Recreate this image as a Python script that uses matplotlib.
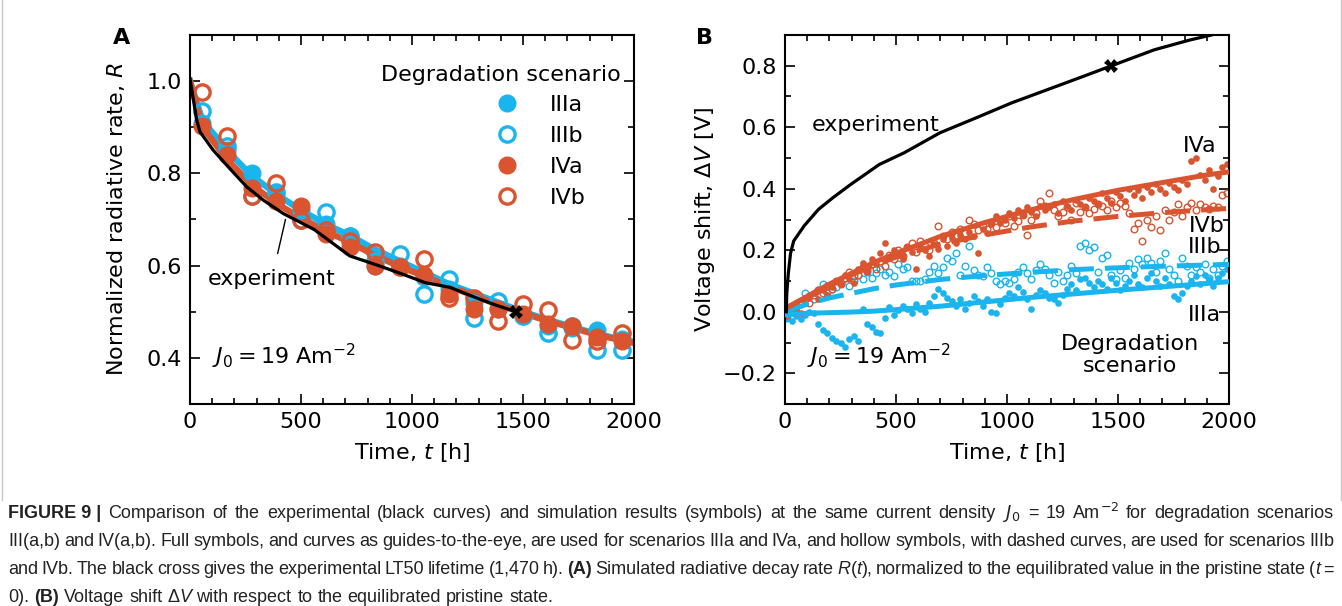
import matplotlib
matplotlib.use("Agg")
import matplotlib.pyplot as plt
from matplotlib.ticker import MultipleLocator
from matplotlib import font_manager

# ── colours / style ──────────────────────────────────────────────────────
BLUE = "#1ab4ee"
ORANGE = "#d9542f"
TEXT_COLOR = "#222222"
TICK_FONTSIZE = 16
LABEL_FONTSIZE = 16

# ── Panel A: normalized radiative rate R(t) ──────────────────────────────
T_A = [56, 167, 278, 389, 500, 611, 722, 833, 944, 1056, 1167, 1278, 1389,
       1500, 1611, 1722, 1833, 1944]
R_IIIA = [0.91, 0.85, 0.80, 0.755, 0.72, 0.69, 0.665, 0.60, 0.60, 0.575,
          0.55, 0.52, 0.505, 0.49, 0.47, 0.465, 0.46, 0.44]
R_IIIB = [0.936, 0.86, 0.75, 0.76, 0.70, 0.716, 0.664, 0.61, 0.626, 0.538,
          0.57, 0.486, 0.524, 0.49, 0.453, 0.47, 0.416, 0.416]
R_IVA = [0.903, 0.84, 0.768, 0.74, 0.729, 0.668, 0.64, 0.60, 0.596, 0.58,
         0.538, 0.507, 0.505, 0.495, 0.473, 0.47, 0.445, 0.437]
R_IVB = [0.977, 0.88, 0.75, 0.78, 0.70, 0.678, 0.653, 0.63, 0.598, 0.615,
         0.529, 0.529, 0.48, 0.517, 0.504, 0.439, 0.437, 0.454]

GUIDE_T_A = [0, 56, 167, 278, 389, 500, 611, 722, 833, 944, 1056, 1167, 1278,
             1389, 1500, 1611, 1722, 1833, 1944, 2000]
GUIDE_IIIA_A = [1.0, 0.915, 0.85, 0.795, 0.755, 0.72, 0.69, 0.665, 0.635,
                0.61, 0.585, 0.56, 0.54, 0.52, 0.5, 0.483, 0.467, 0.452,
                0.44, 0.435]
GUIDE_IVA_A = [1.0, 0.9, 0.83, 0.775, 0.735, 0.703, 0.675, 0.65, 0.622,
               0.598, 0.577, 0.555, 0.535, 0.515, 0.497, 0.48, 0.465, 0.45,
               0.438, 0.432]

EXP_T_A = [0, 30, 45, 105, 180, 255, 330, 420, 560, 720, 850, 960, 1060,
           1170, 1285, 1380, 1470]
EXP_R_A = [1.005, 0.916, 0.89, 0.85, 0.81, 0.771, 0.742, 0.713, 0.678, 0.621,
           0.6, 0.581, 0.563, 0.553, 0.531, 0.514, 0.5]
LT50_T = 1470
LT50_R = 0.5

# ── Panel B: voltage shift dV(t) ─────────────────────────────────────────
T_B = [10, 30, 50, 70, 90, 110, 130, 150, 170, 190,
       210, 230, 250, 270, 290, 310, 330, 350, 370, 390,
       410, 430, 450, 470, 490, 510, 530, 550, 570, 590,
       610, 630, 650, 670, 690, 710, 730, 750, 770, 790,
       810, 830, 850, 870, 890, 910, 930, 950, 970, 990,
       1010, 1030, 1050, 1070, 1090, 1110, 1130, 1150, 1170, 1190,
       1210, 1230, 1250, 1270, 1290, 1310, 1330, 1350, 1370, 1390,
       1410, 1430, 1450, 1470, 1490, 1510, 1530, 1550, 1570, 1590,
       1610, 1630, 1650, 1670, 1690, 1710, 1730, 1750, 1770, 1790,
       1810, 1830, 1850, 1870, 1890, 1910, 1930, 1950, 1970, 1990]
V_IIIA = [-0.02, -0.03, -0.015, -0.025, -0.01, 0.0, -0.005, -0.04, -0.06, -0.07,
          -0.085, -0.095, -0.10, -0.115, -0.09, -0.08, -0.095, 0.01, -0.04, -0.05,
          -0.065, -0.07, -0.02, 0.015, -0.01, 0.005, 0.02, 0.01, -0.005, 0.025,
          0.01, 0.0, 0.03, 0.05, 0.075, 0.06, 0.045, 0.035, 0.02, 0.04,
          0.01, 0.03, 0.05, 0.035, 0.02, 0.04, 0.0, -0.005, 0.025, 0.045,
          0.06, 0.05, 0.08, 0.065, 0.04, 0.01, 0.055, 0.07, 0.06, 0.045,
          0.04, 0.03, 0.055, 0.075, 0.09, 0.07, 0.105, 0.11, 0.095, 0.08,
          0.10, 0.09, 0.075, 0.11, 0.095, 0.07, 0.085, 0.10, 0.12, 0.09,
          0.08, 0.11, 0.125, 0.10, 0.085, 0.11, 0.09, 0.05, 0.04, 0.06,
          0.085, 0.10, 0.115, 0.09, 0.12, 0.105, 0.085, 0.11, 0.125, 0.14]
V_IIIB = [-0.02, 0.0, 0.02, 0.035, 0.06, 0.05, 0.04, 0.07, 0.09, 0.06,
          0.075, 0.08, 0.095, 0.11, 0.085, 0.10, 0.12, 0.105, 0.13, 0.11,
          0.125, 0.14, 0.12, 0.13, 0.115, 0.155, 0.14, 0.145, 0.10, 0.10,
          0.10, 0.105, 0.13, 0.15, 0.125, 0.145, 0.175, 0.165, 0.19, 0.12,
          0.15, 0.215, 0.135, 0.12, 0.115, 0.145, 0.125, 0.10, 0.09, 0.10,
          0.095, 0.105, 0.13, 0.145, 0.125, 0.105, 0.135, 0.155, 0.14, 0.12,
          0.095, 0.13, 0.10, 0.12, 0.15, 0.125, 0.215, 0.225, 0.20, 0.21,
          0.13, 0.175, 0.185, 0.12, 0.105, 0.135, 0.11, 0.16, 0.14, 0.17,
          0.155, 0.175, 0.16, 0.13, 0.165, 0.19, 0.14, 0.12, 0.10, 0.175,
          0.15, 0.12, 0.145, 0.13, 0.155, 0.11, 0.14, 0.12, 0.15, 0.165]
V_IVA = [0.0, 0.02, 0.01, -0.005, 0.03, 0.045, 0.06, 0.04, 0.07, 0.055,
         0.08, 0.10, 0.09, 0.12, 0.105, 0.095, 0.14, 0.16, 0.13, 0.17,
         0.155, 0.19, 0.225, 0.175, 0.20, 0.185, 0.17, 0.21, 0.195, 0.14,
         0.215, 0.20, 0.18, 0.22, 0.205, 0.235, 0.215, 0.24, 0.225, 0.25,
         0.235, 0.26, 0.245, 0.19, 0.27, 0.255, 0.285, 0.31, 0.29, 0.30,
         0.32, 0.305, 0.33, 0.315, 0.34, 0.325, 0.31, 0.345, 0.33, 0.34,
         0.35, 0.32, 0.36, 0.345, 0.33, 0.365, 0.35, 0.34, 0.37, 0.36,
         0.35, 0.385, 0.37, 0.355, 0.39, 0.375, 0.36, 0.40, 0.38, 0.395,
         0.37, 0.405, 0.39, 0.415, 0.40, 0.385, 0.42, 0.405, 0.395, 0.43,
         0.415, 0.49, 0.50, 0.445, 0.43, 0.46, 0.40, 0.44, 0.47, 0.48]
V_IVB = [-0.01, 0.01, 0.0, 0.025, 0.04, 0.03, 0.055, 0.07, 0.06, 0.085,
         0.075, 0.10, 0.09, 0.11, 0.13, 0.115, 0.12, 0.145, 0.135, 0.155,
         0.14, 0.165, 0.15, 0.185, 0.17, 0.20, 0.18, 0.21, 0.225, 0.195,
         0.23, 0.215, 0.20, 0.225, 0.28, 0.245, 0.235, 0.26, 0.245, 0.27,
         0.255, 0.30, 0.285, 0.265, 0.28, 0.27, 0.29, 0.275, 0.30, 0.29,
         0.31, 0.28, 0.295, 0.315, 0.25, 0.30, 0.32, 0.36, 0.345, 0.385,
         0.33, 0.31, 0.325, 0.34, 0.30, 0.355, 0.325, 0.34, 0.32, 0.335,
         0.35, 0.345, 0.33, 0.36, 0.34, 0.355, 0.345, 0.32, 0.27, 0.29,
         0.23, 0.30, 0.275, 0.31, 0.265, 0.33, 0.30, 0.325, 0.35, 0.31,
         0.34, 0.355, 0.33, 0.35, 0.34, 0.335, 0.345, 0.34, 0.38, 0.385]

GUIDE_T_B = [0, 100, 200, 300, 400, 500, 700, 900, 1100, 1300, 1500, 1700,
             1900, 2000]
GUIDE_IIIA_B = [-0.01, -0.005, -0.003, -0.001, 0.002, 0.007, 0.018, 0.032,
                0.046, 0.058, 0.07, 0.081, 0.092, 0.098]
GUIDE_IIIB_B = [0.0, 0.025, 0.045, 0.06, 0.075, 0.087, 0.105, 0.118, 0.128,
                0.137, 0.143, 0.148, 0.152, 0.154]
GUIDE_IVA_B = [0.01, 0.05, 0.09, 0.125, 0.16, 0.19, 0.245, 0.29, 0.33, 0.365,
               0.395, 0.42, 0.445, 0.455]
GUIDE_IVB_B = [0.01, 0.048, 0.085, 0.12, 0.15, 0.178, 0.22, 0.25, 0.275,
               0.295, 0.31, 0.322, 0.332, 0.336]

EXP_T_B = [6, 8, 15, 25, 39, 87, 151, 216, 296, 425, 537, 698, 859, 1020,
           1181, 1342, 1471, 1664, 1825, 1921, 2000]
EXP_V_B = [0.0, 0.06, 0.125, 0.19, 0.23, 0.28, 0.333, 0.371, 0.414, 0.479,
           0.517, 0.582, 0.63, 0.679, 0.722, 0.765, 0.8, 0.852, 0.884, 0.9,
           0.915]
LT50_V = 0.8

# ── caption (justified lines, rich segments) ─────────────────────────────
CAPTION_LINES = [
    [[("FIGURE 9 |", "b")], "Comparison", "of", "the", "experimental", "(black",
     "curves)", "and", "simulation", "results", "(symbols)", "at", "the",
     "same", "current", "density", [("$J_0$", "m")], "=", "19",
     [("Am", "n"), ("$^{-2}$", "m")], "for", "degradation", "scenarios"],
    ["III(a,b)", "and", "IV(a,b).", "Full", "symbols,", "and", "curves", "as",
     "guides-to-the-eye,", "are", "used", "for", "scenarios", "IIIa", "and",
     "IVa,", "and", "hollow", "symbols,", "with", "dashed", "curves,", "are",
     "used", "for", "scenarios", "IIIb"],
    ["and", "IVb.", "The", "black", "cross", "gives", "the", "experimental",
     "LT50", "lifetime", "(1,470", "h).", [("(A)", "b")], "Simulated",
     "radiative", "decay", "rate", [("R", "i"), ("(", "n"), ("t", "i"), ("),", "n")],
     "normalized", "to", "the", "equilibrated", "value", "in", "the",
     "pristine", "state", [("(", "n"), ("t", "i")], "="],
    ["0).", [("(B)", "b")], "Voltage", "shift", [("Δ", "n"), ("V", "i")],
     "with", "respect", "to", "the", "equilibrated", "pristine", "state."],
]
CAPTION_JUSTIFY = [True, True, True, False]


def pick_caption_font():
    for name in ["Liberation Sans Narrow", "Liberation Sans"]:
        try:
            font_manager.findfont(name, fallback_to_default=False)
            return name
        except ValueError:
            continue
    return "DejaVu Sans"


def style_axes(ax, xminor, yminor):
    ax.xaxis.set_minor_locator(MultipleLocator(xminor))
    ax.yaxis.set_minor_locator(MultipleLocator(yminor))
    ax.tick_params(which="both", direction="in", top=True, right=True,
                   labelsize=TICK_FONTSIZE, pad=6, width=1.2)
    ax.tick_params(which="major", length=7.5)
    ax.tick_params(which="minor", length=4)
    for spine in ax.spines.values():
        spine.set_linewidth(1.5)


def draw_caption(fig, font, size=13):
    renderer = fig.canvas.get_renderer()
    W, H = fig.bbox.width, fig.bbox.height
    x_left, x_right = 8, 1334
    ys = [513, 541, 570, 598]
    sty = {"n": {}, "b": {"weight": "bold"}, "i": {"style": "italic"},
           "m": {}}
    probe = fig.text(0, 0, "a a", fontsize=size, family=font)
    probe2 = fig.text(0, 0, "aa", fontsize=size, family=font)
    space = (probe.get_window_extent(renderer).width
             - probe2.get_window_extent(renderer).width)
    probe.remove()
    probe2.remove()
    for line, y, justify in zip(CAPTION_LINES, ys, CAPTION_JUSTIFY):
        words = []
        for w in line:
            pieces = [(w, "n")] if isinstance(w, str) else w
            objs = []
            for s, st in pieces:
                t = fig.text(0, 1 - y / H, s, fontsize=size, family=font,
                             color=TEXT_COLOR, va="center", ha="left",
                             **sty[st])
                objs.append(t)
            words.append(objs)
        widths = [[o.get_window_extent(renderer).width for o in objs]
                  for objs in words]
        total = sum(sum(w) for w in widths)
        gap = space
        if justify and len(words) > 1:
            gap = max((x_right - x_left - total) / (len(words) - 1),
                      0.6 * space)
        x = x_left
        for objs, ws in zip(words, widths):
            for o, w in zip(objs, ws):
                o.set_x(x / W)
                x += w
            x += gap


def main():
    fig = plt.figure(figsize=(13.42, 6.06), dpi=100)
    W, H = 1342, 606
    ax_a = fig.add_axes([190 / W, 1 - 404 / H, 444 / W, 369 / H])
    ax_b = fig.add_axes([785 / W, 1 - 404 / H, 444 / W, 369 / H])

    # ── Panel A ──
    ax = ax_a
    ax.plot(GUIDE_T_A, GUIDE_IIIA_A, color=BLUE, lw=4.5, zorder=2)
    ax.plot(GUIDE_T_A, GUIDE_IVA_A, color=ORANGE, lw=4.5, zorder=2.1)
    ms = 12
    ax.plot(T_A, R_IIIA, "o", color=BLUE, ms=ms, label="IIIa", zorder=3)
    ax.plot(T_A, R_IIIB, "o", mfc="none", mec=BLUE, mew=2.4, ms=ms - 1,
            label="IIIb", zorder=3.1)
    ax.plot(T_A, R_IVA, "o", color=ORANGE, ms=ms, label="IVa", zorder=3.2)
    ax.plot(T_A, R_IVB, "o", mfc="none", mec=ORANGE, mew=2.4, ms=ms - 1,
            label="IVb", zorder=3.3)
    ax.plot(EXP_T_A, EXP_R_A, color="black", lw=2.3, zorder=4)
    ax.plot([LT50_T], [LT50_R], "X", color="black", ms=10, mew=0, zorder=5)
    ax.set_xlim(0, 2000)
    ax.set_ylim(0.3, 1.1)
    ax.xaxis.set_major_locator(MultipleLocator(500))
    ax.yaxis.set_major_locator(MultipleLocator(0.2))
    style_axes(ax, 100, 0.1)
    ax.set_xlabel("Time, $t$ [h]", fontsize=LABEL_FONTSIZE, labelpad=6)
    ax.set_ylabel("Normalized radiative rate, $R$", fontsize=LABEL_FONTSIZE,
                  labelpad=14)
    ax.text(0.70, 0.892, "Degradation scenario", transform=ax.transAxes,
            fontsize=LABEL_FONTSIZE, ha="center", va="center")
    ax.legend(loc="upper left", bbox_to_anchor=(0.695, 0.838), frameon=False,
              fontsize=LABEL_FONTSIZE, handlelength=0.8, handletextpad=1.5,
              labelspacing=0.5, borderpad=0, borderaxespad=0)
    ax.annotate("experiment", xy=(430, 0.70), xytext=(369, 0.572),
                fontsize=LABEL_FONTSIZE, ha="center", va="center",
                arrowprops=dict(arrowstyle="-", color="black", lw=1.0,
                                shrinkA=9, shrinkB=0))
    ax.text(0.05, 0.13, r"$J_0 = 19\ \mathrm{Am}^{-2}$", transform=ax.transAxes,
            fontsize=LABEL_FONTSIZE, ha="left", va="center")

    # ── Panel B ──
    ax = ax_b
    pms = 4.8
    ax.plot(T_B, V_IIIA, "o", color=BLUE, ms=pms, mew=0, zorder=2)
    ax.plot(T_B, V_IIIB, "o", mfc="none", mec=BLUE, mew=1.0, ms=pms,
            zorder=2.1)
    ax.plot(T_B, V_IVA, "o", color=ORANGE, ms=pms, mew=0, zorder=2.2)
    ax.plot(T_B, V_IVB, "o", mfc="none", mec=ORANGE, mew=1.0, ms=pms,
            zorder=2.3)
    ax.plot(GUIDE_T_B, GUIDE_IIIA_B, color=BLUE, lw=3.6, zorder=3)
    ax.plot(GUIDE_T_B, GUIDE_IIIB_B, color=BLUE, lw=3.6, ls=(0, (5, 2.2)),
            zorder=3)
    ax.plot(GUIDE_T_B, GUIDE_IVA_B, color=ORANGE, lw=3.6, zorder=3)
    ax.plot(GUIDE_T_B, GUIDE_IVB_B, color=ORANGE, lw=3.6, ls=(0, (5, 2.2)),
            zorder=3)
    ax.plot(EXP_T_B, EXP_V_B, color="black", lw=2.3, zorder=4)
    ax.plot([LT50_T], [LT50_V], "X", color="black", ms=10, mew=0, zorder=5)
    ax.set_xlim(0, 2000)
    ax.set_ylim(-0.3, 0.9)
    ax.xaxis.set_major_locator(MultipleLocator(500))
    ax.yaxis.set_major_locator(MultipleLocator(0.2))
    style_axes(ax, 100, 0.1)
    ax.set_xlabel("Time, $t$ [h]", fontsize=LABEL_FONTSIZE, labelpad=6)
    ax.set_ylabel(r"Voltage shift, $\Delta V$ [V]", fontsize=LABEL_FONTSIZE,
                  labelpad=4)
    ax.text(122, 0.607, "experiment", fontsize=LABEL_FONTSIZE, ha="left",
            va="center")
    ax.text(1870, 0.54, "IVa", fontsize=LABEL_FONTSIZE, ha="center",
            va="center")
    ax.text(1900, 0.279, "IVb", fontsize=LABEL_FONTSIZE, ha="center",
            va="center")
    ax.text(1890, 0.21, "IIIb", fontsize=LABEL_FONTSIZE, ha="center",
            va="center")
    ax.text(1890, -0.01, "IIIa", fontsize=LABEL_FONTSIZE, ha="center",
            va="center")
    ax.text(1554, -0.14, "Degradation\nscenario", fontsize=LABEL_FONTSIZE,
            ha="center", va="center", linespacing=1.1)
    ax.text(0.05, 0.13, r"$J_0 = 19\ \mathrm{Am}^{-2}$", transform=ax.transAxes,
            fontsize=LABEL_FONTSIZE, ha="left", va="center")

    # panel letters
    fig.text(122 / W, 1 - 38 / H, "A", fontsize=16, weight="bold",
             ha="center", va="center")
    fig.text(704 / W, 1 - 38 / H, "B", fontsize=16, weight="bold",
             ha="center", va="center")

    # thin frame edges of the figure box
    fig.add_artist(plt.Line2D([1.5 / W, 1.5 / W], [1, 1 - 500 / H],
                              color="#c8c8c8", lw=1.0))
    fig.add_artist(plt.Line2D([1 - 1.5 / W, 1 - 1.5 / W], [1, 1 - 500 / H],
                              color="#c8c8c8", lw=1.0))

    draw_caption(fig, pick_caption_font())

    fig.savefig("out.png", dpi=100)
    plt.close(fig)


if __name__ == "__main__":
    main()
